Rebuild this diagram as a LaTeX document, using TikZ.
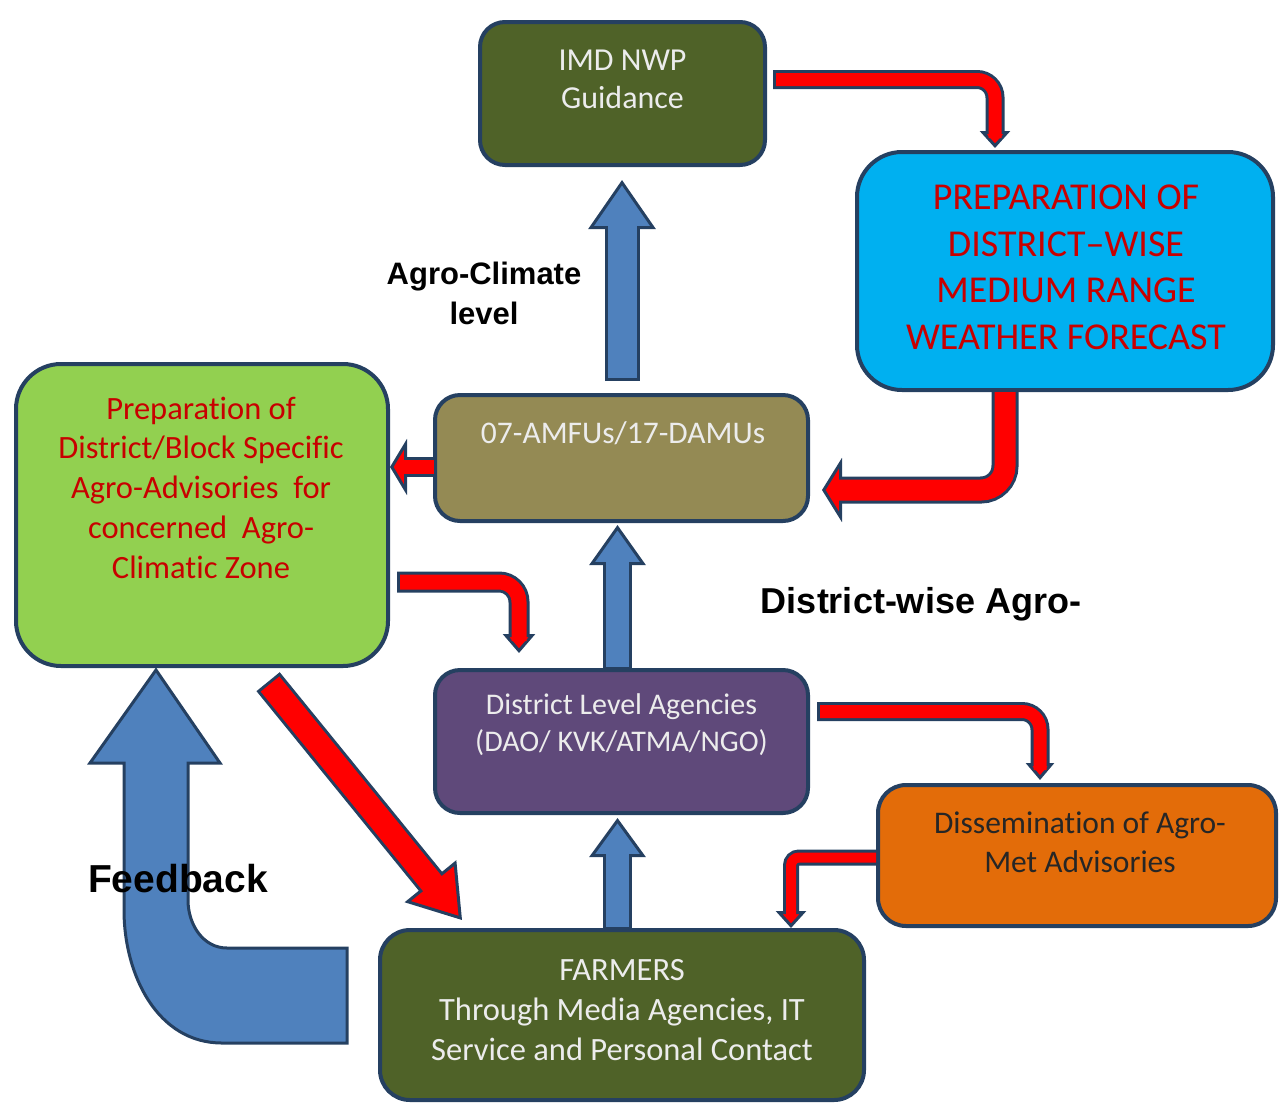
\documentclass[tikz,border=0pt]{standalone}
\usepackage{fontspec}
\setmainfont{Carlito}[Ligatures={NoCommon}]
\newfontfamily\labelfont{Liberation Sans}
\usetikzlibrary{arrows.meta, calc}

\definecolor{EdgeNavy}{RGB}{37,64,97}
\definecolor{OliveDark}{RGB}{79,98,40}
\definecolor{SkyCyan}{RGB}{0,176,240}
\definecolor{KhakiTan}{RGB}{148,138,84}
\definecolor{LeafGreen}{RGB}{146,208,80}
\definecolor{PlumPurple}{RGB}{95,73,122}
\definecolor{PumpkinOrange}{RGB}{227,108,9}
\definecolor{SteelBlue}{RGB}{79,129,189}
\definecolor{FlowRed}{RGB}{255,0,0}
\definecolor{TextRed}{RGB}{200,0,0}
\definecolor{TextLight}{RGB}{236,236,236}
\definecolor{TextDark}{RGB}{38,38,38}

\tikzset{
    box/.style={draw=EdgeNavy, line width=4pt, rounded corners=25pt, inner sep=0pt},
    boxtext/.style={align=center, inner sep=0pt},
    steplabel/.style={align=center, inner sep=0pt, text=black},
    flow/.style n args={4}{draw=#1, line width=#2, shorten >=#4-7pt,
        preaction={draw=EdgeNavy, line width=#2+6pt, shorten >=0pt, shorten <=-3pt,
            -{Triangle[length=#4, width=#3, line width=3pt, fill=#1, color=EdgeNavy]}}}
}

\begin{document}
\begin{tikzpicture}[x=1pt, y=-1pt]
    \useasboundingbox (0,0) rectangle (1280,1104);

    \node[box, fill=OliveDark, minimum width=285pt, minimum height=143pt] (imd) at (622.5,93.5) {};
    \node[box, fill=SkyCyan, rounded corners=45pt, minimum width=416pt, minimum height=238pt] (prep) at (1065,271) {};
    \node[box, fill=KhakiTan, minimum width=373pt, minimum height=126pt] (ams) at (621.5,458) {};
    \node[box, fill=LeafGreen, rounded corners=45pt, minimum width=372pt, minimum height=302pt] (green) at (202,515) {};
    \node[box, fill=PlumPurple, minimum width=373pt, minimum height=143pt] (dla) at (621.5,741.5) {};
    \node[box, fill=PumpkinOrange, rounded corners=28pt, minimum width=398pt, minimum height=141pt] (dis) at (1077,855.5) {};
    \node[box, fill=OliveDark, rounded corners=30pt, minimum width=484pt, minimum height=170pt] (farm) at (622,1015) {};

    \node[boxtext, text=TextLight, font=\fontsize{32}{38}\selectfont] (imdtext) at ($(imd)+(0,-14)$) {IMD NWP\\Guidance};
    \node[boxtext, text=TextRed, font=\fontsize{38}{46.5}\selectfont] (preptext) at ($(prep)+(1,-3.5)$)
        {PREPARATION OF\\DISTRICT--WISE\\MEDIUM RANGE\\WEATHER FORECAST};
    \node[boxtext, text=TextLight, font=\fontsize{31.5}{38}\selectfont] (amstext) at ($(ams)+(1.5,-25)$) {07-AMFUs/17-DAMUs};
    \node[boxtext, text=TextRed, font=\fontsize{32.5}{39.75}\selectfont] (greentext) at ($(green)+(-1,-27.5)$)
        {Preparation of\\District/Block Specific\\Agro-Advisories\ \ for\\concerned\ \ Agro-\\Climatic Zone};
    \node[boxtext, text=TextLight, font=\fontsize{30}{37}\selectfont] (dlatext) at ($(dla)+(0,-17)$)
        {District Level Agencies\\(DAO/ KVK/ATMA/NGO)};
    \node[boxtext, text=TextDark, font=\fontsize{31.5}{39}\selectfont] (distext) at ($(dis)+(3,-13)$)
        {Dissemination of Agro-\\Met Advisories};
    \node[boxtext, text=TextLight, font=\fontsize{32.5}{40}\selectfont] (farmtext) at ($(farm)+(0,-5)$)
        {FARMERS\\Through Media Agencies, IT\\Service and Personal Contact};

    \coordinate (s1) at ($(imd.east)+(9,-14)$);
    \coordinate (t1) at ($(prep.north west)+(140,-2)$);
    \draw[flow={FlowRed}{13pt}{30pt}{17pt}, rounded corners=18pt] (s1) -| (t1);

    \coordinate (s2) at ($(prep.south west)+(150,0)$);
    \coordinate (t2) at ($(ams.east)+(12,32)$);
    \draw[flow={FlowRed}{21pt}{64pt}{20pt}, rounded corners=24pt] (s2) |- (t2);

    \coordinate (s3) at ($(ams.west)+(1,9)$);
    \draw[flow={FlowRed}{14pt}{56pt}{17pt}] (s3) -- (s3 -| green.east);

    \coordinate (s4) at ($(green.east)+(10,67)$);
    \coordinate (t4) at ($(dla.north west)+(86,-15)$);
    \draw[flow={FlowRed}{15pt}{32pt}{19pt}, rounded corners=20pt] (s4) -| (t4);

    \coordinate (s5) at ($(green.south)+(68,16)$);
    \coordinate (t5) at ($(farm.north west)+(84,-8)$);
    \draw[flow={FlowRed}{24pt}{66pt}{50pt}] (s5) -- (t5);

    \coordinate (s6) at ($(dla.east)+(10,-30)$);
    \coordinate (t6) at ($(dis.north west)+(164,-3)$);
    \draw[flow={FlowRed}{13pt}{28pt}{17pt}, rounded corners=18pt] (s6) -| (t6);

    \coordinate (s7) at ($(dis.west)+(0,2)$);
    \coordinate (t7) at ($(farm.north east)+(-75,0)$);
    \draw[flow={FlowRed}{10pt}{30pt}{17pt}, rounded corners=8pt] (s7) -| (t7);

    \coordinate (b1s) at ($(ams.north)+(0.5,-15)$);
    \coordinate (b1t) at ($(imd.south)+(0,13)$);
    \draw[flow={SteelBlue}{29pt}{67pt}{49pt}] (b1s) -- (b1s |- b1t);

    \coordinate (b2s) at ($(dla.north)+(-4,-1)$);
    \coordinate (b2t) at ($(ams.south)+(-4,2)$);
    \draw[flow={SteelBlue}{23pt}{56pt}{40pt}] (b2s) -- (b2s |- b2t);

    \coordinate (b3s) at ($(farm.north)+(-4.5,-1)$);
    \coordinate (b3t) at ($(dla.south)+(-4,3)$);
    \draw[flow={SteelBlue}{23pt}{56pt}{39pt}] (b3s) -- (b3s |- b3t);

    \coordinate (fbtip) at ($(green.south west)+(142,2)$);
    \draw[fill=SteelBlue, draw=EdgeNavy, line width=3pt] (fbtip) -- ++(64,93) -- ++(-32,0) -- ++(0,137)
        to[out=-90, in=180] ++(39,48) -- ++(120,0) -- ++(0,95) -- ++(-125,0)
        to[out=180, in=-90] ++(-98,-133) -- ++(0,-147) -- ++(-34,0) -- cycle;

    \node[steplabel, font=\labelfont\bfseries\fontsize{31}{40}\selectfont] (agrolevel) at (484,293) {Agro-Climate\\level};
    \node[steplabel, font=\labelfont\bfseries\fontsize{36}{44}\selectfont] (distwise) at (921,604) {District-wise Agro-};
    \node[steplabel, font=\labelfont\bfseries\fontsize{39}{46}\selectfont] (feedback) at (178,879) {Feedback};
\end{tikzpicture}
\end{document}
